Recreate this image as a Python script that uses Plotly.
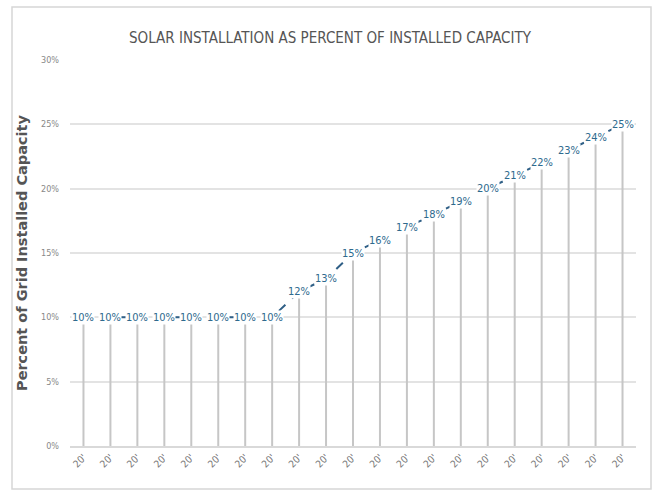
import plotly.graph_objects as go

# Categories (years, shown clipped on the axis) and share of grid capacity
years = [str(y) for y in range(2020, 2041)]
tick_labels = ["20'"] * len(years)
solar_pct = [10, 10, 10, 10, 10, 10, 10, 10, 12, 13, 15, 16, 17, 18, 19, 20, 21, 22, 23, 24, 25]
y_ticks = [0, 5, 10, 15, 20, 25, 30]
y_tick_labels = [f"{v}%" for v in y_ticks]

W, H = 654, 491
L, R, T, B = 70, 18, 60, 45
NARROW = "DejaVu Sans Condensed, Liberation Sans Narrow, Arial Narrow, sans-serif"

fig = go.Figure()

# Gray drop lines from the axis up to each point
drop_x, drop_y = [], []
for i, v in enumerate(solar_pct):
    drop_x += [i, i, None]
    drop_y += [0, v, None]
fig.add_trace(go.Scatter(
    x=drop_x, y=drop_y, mode="lines",
    line=dict(color="#C6C6C6", width=2),
    hoverinfo="skip", showlegend=False,
))

# Dashed series line
fig.add_trace(go.Scatter(
    x=list(range(len(years))), y=solar_pct, mode="lines",
    line=dict(color="#2F5F86", width=2, dash="dash"),
    showlegend=False,
))

# Data labels sitting on the points
annotations = []
for i, v in enumerate(solar_pct):
    annotations.append(dict(
        x=i, y=v, xref="x", yref="y", text=f"{v}%", showarrow=False,
        font=dict(family=NARROW, size=11, color="#2E6A8E"),
        bgcolor="white", borderpad=0,
    ))

plot_w = W - L - R
plot_h = H - T - B

# Y-axis title
annotations.append(dict(
    x=(22 - L) / plot_w, y=0.5, xref="paper", yref="paper",
    xanchor="center", yanchor="middle",
    text="<b>Percent of Grid Installed Capacity</b>", textangle=-90, showarrow=False,
    font=dict(family="DejaVu Sans, Verdana, sans-serif", size=14.5, color="#555555"),
))

fig.add_shape(
    type="rect", xref="paper", yref="paper",
    x0=(12 - L) / plot_w, x1=(651 - L) / plot_w,
    y0=(H - B - 489) / plot_h, y1=(H - B - 7) / plot_h,
    line=dict(color="#D6D6D6", width=1.5), fillcolor="rgba(0,0,0,0)", layer="below",
)

fig.update_layout(
    width=W, height=H,
    margin=dict(l=L, r=R, t=T, b=B),
    paper_bgcolor="white", plot_bgcolor="white",
    title=dict(
        text="SOLAR INSTALLATION AS PERCENT OF INSTALLED CAPACITY",
        x=(330 / W), xanchor="center", y=1 - 38 / H, yanchor="middle",
        font=dict(family=NARROW, size=15, color="#555555"),
    ),
    annotations=annotations,
    xaxis=dict(
        type="linear", range=[-0.5, len(years) - 0.5],
        tickmode="array", tickvals=list(range(len(years))), ticktext=tick_labels, tickangle=-45,
        tickfont=dict(family=NARROW, size=10, color="#777777"),
        showgrid=False, showline=True, linecolor="#D9D9D9", linewidth=1.5,
        ticks="", zeroline=False,
    ),
    yaxis=dict(
        range=[0, 30], tickmode="array", tickvals=y_ticks, ticktext=y_tick_labels,
        tickfont=dict(family=NARROW, size=9, color="#888888"),
        showgrid=True, gridcolor="#E3E3E3", gridwidth=1.5,
        zeroline=False, showline=False, ticks="", ticklabelstandoff=10,
    ),
)

fig.write_html("out.html")
